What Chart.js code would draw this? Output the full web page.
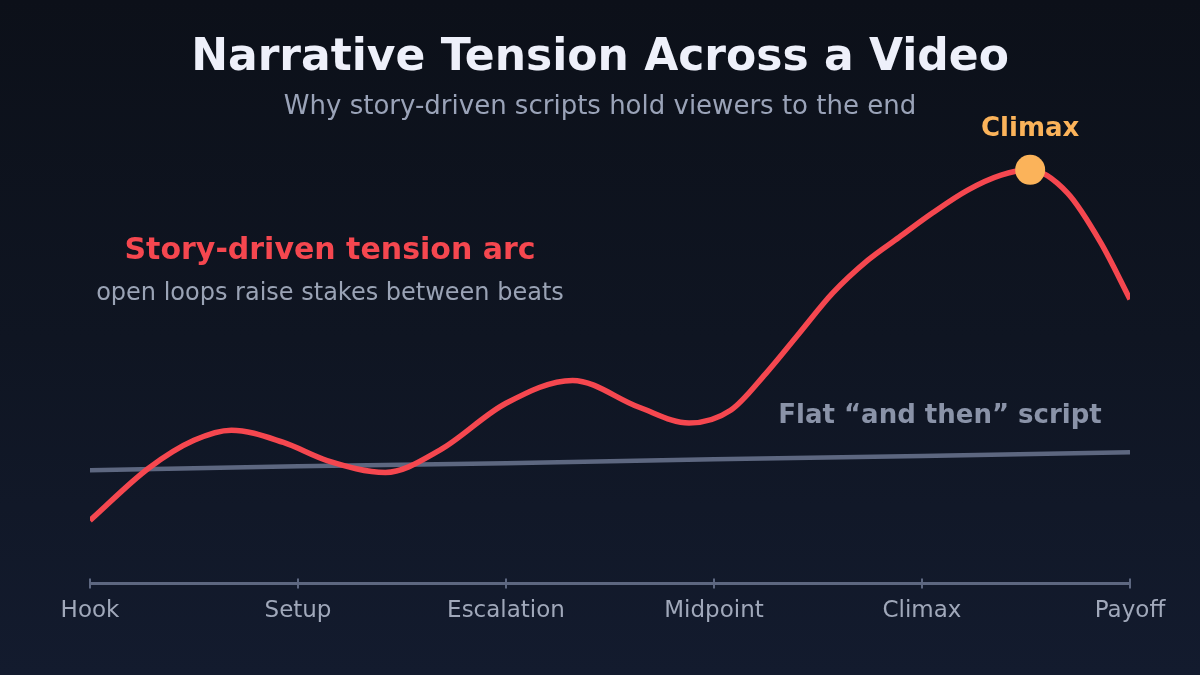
<!DOCTYPE html>
<html>
<head>
<meta charset="utf-8">
<script src="https://cdn.jsdelivr.net/npm/chart.js@4.4.1/dist/chart.umd.min.js"></script>
<style>
  html, body { margin: 0; padding: 0; }
  body {
    width: 1200px; height: 675px; overflow: hidden;
    background: linear-gradient(180deg, #0c1019 0%, #0f1522 50%, #131b2e 100%);
  }
  #wrap { position: relative; width: 1200px; height: 675px; }
</style>
</head>
<body>
<div id="wrap"><canvas id="chart" width="1200" height="675"></canvas></div>
<script>
const beats = ['Hook', 'Setup', 'Escalation', 'Midpoint', 'Climax', 'Payoff'];

// story arc, x in beat units (0 = Hook, 5 = Payoff), y = tension 0..100
const storyX = [0, 0.28, 0.5, 0.68, 0.93, 1.14, 1.42, 1.68, 2.0, 2.32, 2.64, 2.88, 3.08, 3.25, 3.41, 3.57, 3.74, 3.89, 4.05, 4.22, 4.38, 4.52, 4.70, 4.86, 5.0];
const storyY = [14.3, 26.1, 32.5, 34.8, 32.0, 27.9, 25.2, 30.2, 40.9, 46.1, 40.0, 36.4, 39.3, 47.7, 56.8, 65.9, 73.4, 78.6, 84.1, 89.3, 92.7, 93.9, 88.6, 77.3, 64.5];

const flatX = [0, 1, 2, 3, 4, 5];
const flatY = [25.7, 26.6, 27.3, 28.2, 28.9, 29.8];

const climaxX = 4.52;
const climaxY = 93.9;

const FONT = "'DejaVu Sans', sans-serif";

const textPlugin = {
  id: 'textPlugin',
  afterDraw(chart) {
    const ctx = chart.ctx;
    ctx.save();
    ctx.textAlign = 'center';
    ctx.textBaseline = 'middle';

    ctx.fillStyle = '#eef0fa';
    ctx.font = 'bold 44px ' + FONT;
    ctx.fillText('Narrative Tension Across a Video', 600, 59);

    ctx.fillStyle = '#9aa3b8';
    ctx.font = '26px ' + FONT;
    ctx.fillText('Why story-driven scripts hold viewers to the end', 600, 107);

    ctx.fillStyle = '#f5474f';
    ctx.font = 'bold 30px ' + FONT;
    ctx.fillText('Story-driven tension arc', 330, 251);

    ctx.fillStyle = '#9aa3b5';
    ctx.font = '24px ' + FONT;
    ctx.fillText('open loops raise stakes between beats', 330, 294);

    ctx.fillStyle = '#8a93a8';
    ctx.font = 'bold 26px ' + FONT;
    ctx.fillText('Flat \u201cand then\u201d script', 940, 416);

    const px = chart.scales.x.getPixelForValue(climaxX);
    const py = chart.scales.y.getPixelForValue(climaxY);
    ctx.fillStyle = '#fbb35a';
    ctx.font = 'bold 26px ' + FONT;
    ctx.fillText('Climax', px, py - 41);

    // small tick marks above the axis line as well
    const xs = chart.scales.x;
    const base = chart.chartArea.bottom;
    ctx.strokeStyle = '#5d6780';
    ctx.lineWidth = 2;
    beats.forEach((b, i) => {
      const tx = xs.getPixelForValue(i);
      ctx.beginPath();
      ctx.moveTo(tx, base - 5);
      ctx.lineTo(tx, base);
      ctx.stroke();
    });
    ctx.restore();
  }
};

new Chart(document.getElementById('chart'), {
  type: 'line',
  data: {
    datasets: [
      {
        label: 'Climax',
        data: [{ x: climaxX, y: climaxY }],
        showLine: false,
        pointRadius: 15,
        pointBackgroundColor: '#fbb35a',
        pointBorderWidth: 0,
        order: 0
      },
      {
        label: 'Story-driven',
        data: storyX.map((x, i) => ({ x: x, y: storyY[i] })),
        borderColor: '#f5474f',
        borderWidth: 5.5,
        pointRadius: 0,
        cubicInterpolationMode: 'monotone',
        borderCapStyle: 'butt',
        order: 1
      },
      {
        label: 'Flat',
        data: flatX.map((x, i) => ({ x: x, y: flatY[i] })),
        borderColor: '#5d6780',
        borderWidth: 4.5,
        pointRadius: 0,
        tension: 0,
        order: 2
      }
    ]
  },
  options: {
    responsive: false,
    animation: false,
    devicePixelRatio: 1,
    layout: { padding: { left: 90, right: 70, top: 143, bottom: 41 } },
    plugins: { legend: { display: false }, tooltip: { enabled: false } },
    scales: {
      x: {
        type: 'linear',
        min: 0,
        max: 5,
        grid: { drawOnChartArea: false, drawTicks: true, tickLength: 5, color: '#5d6780', lineWidth: 2 },
        border: { display: true, color: '#5d6780', width: 3 },
        ticks: {
          stepSize: 1,
          color: '#a0a8ba',
          font: { family: FONT, size: 23 },
          padding: 9,
          maxRotation: 0,
          callback: v => beats[v]
        }
      },
      y: {
        display: false,
        min: 0,
        max: 100
      }
    }
  },
  plugins: [textPlugin]
});
</script>
</body>
</html>
